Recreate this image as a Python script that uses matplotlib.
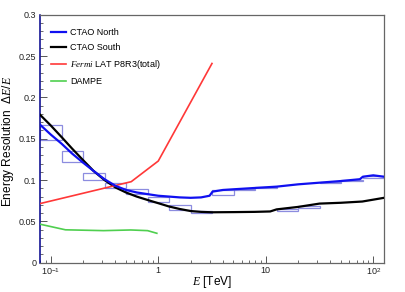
import matplotlib
matplotlib.use("Agg")
import matplotlib.pyplot as plt
from matplotlib.patches import Rectangle
from matplotlib.ticker import FixedLocator, FixedFormatter, MultipleLocator, NullFormatter, FuncFormatter

plt.rcParams['font.family'] = ['Liberation Sans', 'DejaVu Sans']
plt.rcParams['mathtext.fontset'] = 'custom'
plt.rcParams['mathtext.rm'] = 'Liberation Sans'
plt.rcParams['mathtext.it'] = 'Liberation Serif:italic'

# CTAO North (blue)
north_e = [0.0794, 0.1, 0.126, 0.158, 0.2, 0.25, 0.316, 0.4, 0.5, 0.63, 0.79, 1.0,
           1.26, 1.58, 2.0, 2.5, 3.0, 3.2, 4.0, 5.0, 7.9, 12.6, 20, 31.6, 50, 75, 80, 100, 126]
north_res = [0.167, 0.155, 0.144, 0.132, 0.121, 0.111, 0.101, 0.093, 0.088, 0.085, 0.083, 0.081,
             0.080, 0.079, 0.0785, 0.079, 0.081, 0.086, 0.088, 0.0888, 0.0904, 0.092, 0.0948, 0.0968,
             0.0988, 0.101, 0.104, 0.1057, 0.104]

# CTAO South (black)
south_e = [0.0794, 0.1, 0.126, 0.158, 0.2, 0.25, 0.316, 0.4, 0.5, 0.63, 0.79, 1.0,
           1.26, 1.58, 2.0, 2.5, 3.16, 5.0, 7.9, 11, 12.6, 20, 31.6, 50, 79, 126]
south_res = [0.179, 0.166, 0.152, 0.138, 0.124, 0.111, 0.100, 0.091, 0.085, 0.080, 0.076, 0.072,
             0.068, 0.065, 0.0625, 0.0615, 0.061, 0.0612, 0.0615, 0.062, 0.0645, 0.0675, 0.0715,
             0.0725, 0.074, 0.0785]

# Fermi LAT P8R3 (total)
fermi_e = [0.0794, 0.56, 1.0, 3.16]
fermi_res = [0.0715, 0.098, 0.123, 0.241]

# DAMPE
dampe_e = [0.0794, 0.137, 0.31, 0.555, 0.795, 0.97]
dampe_res = [0.0466, 0.0398, 0.0388, 0.0396, 0.0388, 0.0356]

# binned boxes (5 bins per decade, log10 E from -1.1 to 2.1)
bin_edges_log = [-1.1, -0.9, -0.7, -0.5, -0.3, -0.1, 0.1, 0.3, 0.5, 0.7, 0.9, 1.1, 1.3, 1.5, 1.7, 1.9, 2.1]
box_lo = [0.148, 0.122, 0.100, 0.090, 0.083, 0.074, 0.064, 0.0605, 0.082, 0.0885,
          0.090, 0.063, 0.066, 0.0965, 0.099, 0.102]
box_hi = [0.167, 0.135, 0.109, 0.097, 0.089, 0.080, 0.070, 0.0625, 0.088, 0.0895,
          0.0915, 0.065, 0.068, 0.0975, 0.100, 0.105]

fig = plt.figure(figsize=(4.05, 2.92), dpi=100)
ax = fig.add_axes([0.0988, 0.1003, 0.8494, 0.8494])

edges = [10 ** v for v in bin_edges_log]
for i in range(len(box_lo)):
    ax.add_patch(Rectangle((edges[i], box_lo[i]), edges[i + 1] - edges[i], box_hi[i] - box_lo[i],
                           fill=False, edgecolor='#6f6fd8', lw=0.9, alpha=0.8, zorder=2))

ax.plot(north_e, north_res, color='#1010f0', lw=1.6, label='CTAO North', zorder=4)
ax.plot(south_e, south_res, color='black', lw=1.6, label='CTAO South', zorder=3)
ax.plot(fermi_e, fermi_res, color='#ff3838', lw=1.2, label=r'$\mathit{Fermi}$ LAT P8R3(total)', zorder=3)
ax.plot(dampe_e, dampe_res, color='#4fcf4f', lw=1.2, label='DAMPE', zorder=3)

ax.set_xscale('log')
ax.set_xlim(10 ** -1.1, 10 ** 2.1)
ax.set_ylim(0, 0.3)

ax.xaxis.set_major_locator(FixedLocator([0.1, 1, 10, 100]))
ax.xaxis.set_major_formatter(FixedFormatter([r'$10^{-1}$', '1', '10', r'$10^{2}$']))
minors = [m * 10.0 ** d for d in range(-2, 3) for m in range(2, 10)]
ax.xaxis.set_minor_locator(FixedLocator(minors))
ax.xaxis.set_minor_formatter(NullFormatter())
ax.yaxis.set_major_locator(MultipleLocator(0.05))
ax.yaxis.set_minor_locator(MultipleLocator(0.01))
ax.yaxis.set_major_formatter(FuncFormatter(lambda v, p: '%g' % round(v, 3)))

ax.tick_params(which='both', direction='in', top=False, right=False, colors='#555555',
               labelcolor='#222222', labelsize=6.5, pad=2.5)
ax.tick_params(which='major', length=5, width=0.7)
ax.tick_params(which='minor', length=2.5, width=0.6)

for s in ['top', 'right', 'bottom']:
    ax.spines[s].set_color('#666666')
    ax.spines[s].set_linewidth(0.9)
ax.spines['left'].set_color('#00008b')
ax.spines['left'].set_linewidth(1.1)

ax.set_xlabel(r'$E$ [TeV]', fontsize=8.6)
ax.xaxis.set_label_coords(0.5, -0.045)
ax.set_ylabel(r'Energy Resolution  $\Delta E/E$', fontsize=8.6)
ax.yaxis.set_label_coords(-0.07, 0.49)

ax.legend(loc='upper left', bbox_to_anchor=(0.02, 0.96), frameon=False, fontsize=6.5,
          handlelength=1.75, handletextpad=0.4, labelspacing=0.65, borderaxespad=0)

fig.savefig('out.png', dpi=100)
